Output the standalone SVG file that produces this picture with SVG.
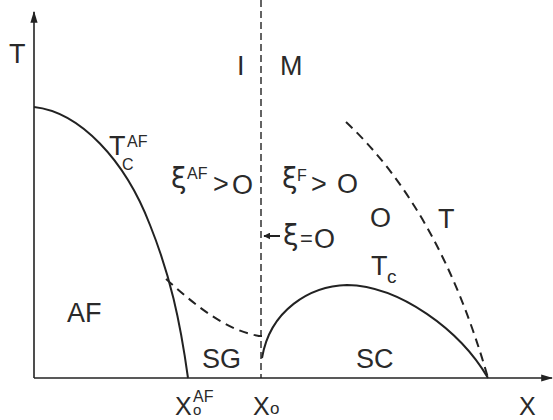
<svg xmlns="http://www.w3.org/2000/svg" width="553" height="420" viewBox="0 0 553 420">
<defs>
<marker id="ah" viewBox="0 0 10 10" refX="9" refY="5" markerWidth="7" markerHeight="7" orient="auto" markerUnits="userSpaceOnUse">
<path d="M0,0 L10,5 L0,10 z" fill="#222"/>
</marker>
<marker id="ax" viewBox="0 0 10 10" refX="9" refY="5" markerWidth="12" markerHeight="12" orient="auto" markerUnits="userSpaceOnUse">
<path d="M0,2 L10,5 L0,8 z" fill="#222"/>
</marker>
</defs>
<style>
.t{font-family:"Liberation Sans",Arial,sans-serif;fill:#2a2a2a;font-size:27px}
.s{font-size:16px}
.b{font-size:25px}
.g{font-family:"DejaVu Sans",sans-serif;fill:#2a2a2a;font-size:28px}
.solid{fill:none;stroke:#222;stroke-width:2}
.dash{fill:none;stroke:#222;stroke-width:2;stroke-dasharray:9 6}
.axis{fill:none;stroke:#222;stroke-width:1.6}
</style>
<rect width="553" height="420" fill="#fff"/>
<g id="connectors">
<line class="axis" x1="34" y1="378" x2="34" y2="12" marker-end="url(#ax)"/>
<line class="axis" x1="34" y1="378" x2="552" y2="378" marker-end="url(#ax)"/>
<line x1="261" y1="0" x2="261" y2="378" stroke="#222" stroke-width="1.4" stroke-dasharray="7 4"/>
<path id="afcurve" class="solid" d="M34,107 C80,112 125,160 150,225 C170,275 180,320 188,378"/>
<path id="sgline" class="dash" d="M166,279 C195,305 225,330 259,336"/>
<path class="solid" d="M258,336 L262,336" />
<path id="scdome" class="solid" d="M262,358 C270,310 310,286 347,285 C400,286 460,330 488,378"/>
<path id="tcurve" class="dash" d="M346,122 Q440,210 488,378"/>
<line x1="280" y1="236" x2="264" y2="236" stroke="#222" stroke-width="2" marker-end="url(#ah)"/>
</g>
<g id="labels">
<text class="t" x="9" y="63">T</text>
<text class="t" x="237" y="75">I</text>
<text class="t" x="280" y="75">M</text>
<g id="tcaf"><text class="t" x="109" y="155">T</text><text class="t s" x="122" y="170">C</text><text class="t s" x="127" y="147">AF</text></g>
<g id="xiaf"><text class="g" x="171" y="188">ξ</text><text class="t s" x="187" y="179">AF</text><text class="t" x="213" y="193">&gt;</text><text class="t" x="232" y="194">O</text></g>
<g id="xif"><text class="g" x="282" y="188">ξ</text><text class="t s" x="297" y="181">F</text><text class="t" x="311" y="193">&gt;</text><text class="t" x="337" y="193">O</text></g>
<g id="xi0"><text class="g" x="283" y="245">ξ</text><text class="t" x="300" y="246" style="font-size:22px">=</text><text class="t" x="314" y="248">O</text></g>
<text class="t" x="370" y="227">O</text>
<text class="t" x="438" y="228">T</text>
<g id="tc"><text class="t" x="371" y="275">T</text><text class="t" x="387" y="283" style="font-size:19px">c</text></g>
<text class="t" x="67" y="322">AF</text>
<text class="t" x="202" y="368">SG</text>
<text class="t" x="356" y="368">SC</text>
<g id="x0af"><text class="t b" x="175" y="415">X</text><text class="t s" x="193" y="402">AF</text><text class="t" x="193" y="415" style="font-size:15px">o</text></g>
<g id="x0"><text class="t b" x="253" y="415">X</text><text class="t" x="270" y="414" style="font-size:17px">o</text></g>
<text class="t b" x="519" y="415">X</text>
</g>
</svg>
